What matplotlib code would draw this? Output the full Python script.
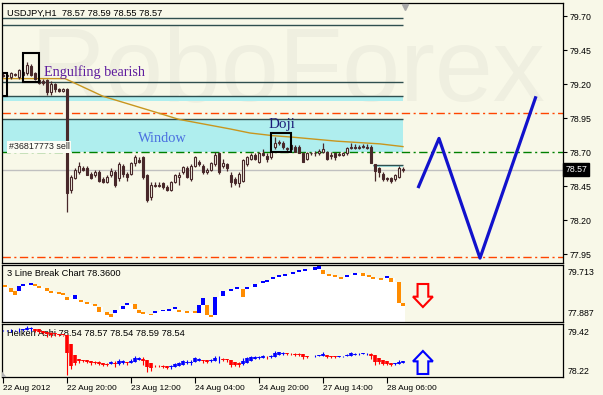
import numpy as np
import matplotlib
matplotlib.use("Agg")
import matplotlib.pyplot as plt
import matplotlib.transforms as mtransforms
from matplotlib.patches import Rectangle, Polygon

plt.rcParams['font.family'] = ['Liberation Sans', 'DejaVu Sans']

# USDJPY H1 candles, one per bar
opens = [79.27, 79.26, 79.25, 79.27, 79.25, 79.29, 79.28, 79.33, 79.28, 79.23,
         79.22, 79.23, 79.14, 79.20, 79.16, 79.15, 79.16, 78.42, 78.51, 78.55,
         78.58, 78.58, 78.54, 78.53, 78.55, 78.50, 78.48, 78.53, 78.55, 78.51,
         78.60, 78.54, 78.54, 78.62, 78.64, 78.66, 78.53, 78.37, 78.45, 78.46,
         78.47, 78.44, 78.42, 78.48, 78.52, 78.55, 78.58, 78.50, 78.60, 78.63,
         78.60, 78.55, 78.57, 78.61, 78.69, 78.60, 78.61, 78.53, 78.50, 78.47,
         78.49, 78.61, 78.65, 78.68, 78.63, 78.69, 78.67, 78.66, 78.74, 78.77,
         78.77, 78.72, 78.75, 78.74, 78.74, 78.69, 78.65, 78.69, 78.69, 78.69,
         78.70, 78.70, 78.67, 78.69, 78.68, 78.68, 78.69, 78.73, 78.74, 78.73,
         78.74, 78.74, 78.74, 78.61, 78.58, 78.54, 78.51, 78.51, 78.50, 78.52,
         78.57]
highs = [79.28, 79.28, 79.29, 79.28, 79.31, 79.30, 79.36, 79.35, 79.29, 79.24,
         79.24, 79.24, 79.22, 79.21, 79.17, 79.17, 79.17, 78.53, 78.58, 78.63,
         78.60, 78.60, 78.55, 78.57, 78.57, 78.52, 78.53, 78.58, 78.57, 78.63,
         78.61, 78.55, 78.63, 78.68, 78.66, 78.67, 78.54, 78.48, 78.48, 78.48,
         78.48, 78.46, 78.49, 78.54, 78.55, 78.60, 78.60, 78.61, 78.67, 78.64,
         78.61, 78.58, 78.63, 78.70, 78.70, 78.65, 78.62, 78.55, 78.52, 78.55,
         78.65, 78.67, 78.69, 78.69, 78.70, 78.72, 78.69, 78.71, 78.81, 78.79,
         78.78, 78.74, 78.76, 78.75, 78.75, 78.70, 78.70, 78.70, 78.71, 78.72,
         78.77, 78.71, 78.70, 78.70, 78.70, 78.70, 78.74, 78.77, 78.76, 78.75,
         78.76, 78.76, 78.75, 78.61, 78.59, 78.55, 78.52, 78.52, 78.54, 78.60,
         78.59]
lows = [79.25, 79.25, 79.24, 79.26, 79.24, 79.26, 79.27, 79.26, 79.23, 79.20,
        79.19, 79.12, 79.12, 79.14, 79.14, 79.14, 78.26, 78.40, 78.50, 78.54,
        78.56, 78.53, 78.50, 78.52, 78.48, 78.47, 78.47, 78.52, 78.44, 78.49,
        78.52, 78.49, 78.53, 78.60, 78.62, 78.50, 78.33, 78.35, 78.44, 78.44,
        78.43, 78.41, 78.41, 78.47, 78.46, 78.54, 78.51, 78.49, 78.59, 78.60,
        78.54, 78.54, 78.56, 78.60, 78.54, 78.58, 78.56, 78.44, 78.46, 78.44,
        78.48, 78.60, 78.64, 78.64, 78.62, 78.67, 78.63, 78.65, 78.72, 78.75,
        78.72, 78.71, 78.71, 78.70, 78.69, 78.63, 78.64, 78.68, 78.67, 78.68,
        78.69, 78.64, 78.65, 78.64, 78.67, 78.67, 78.68, 78.72, 78.72, 78.72,
        78.73, 78.72, 78.62, 78.49, 78.52, 78.49, 78.49, 78.47, 78.49, 78.51,
        78.55]
closes = [79.26, 79.27, 79.28, 79.27, 79.30, 79.27, 79.34, 79.27, 79.24, 79.21,
          79.21, 79.14, 79.20, 79.16, 79.15, 79.16, 78.40, 78.52, 78.57, 78.60,
          78.57, 78.53, 78.51, 78.55, 78.49, 78.48, 78.52, 78.56, 78.46, 78.61,
          78.54, 78.52, 78.62, 78.66, 78.63, 78.52, 78.35, 78.46, 78.46, 78.45,
          78.44, 78.42, 78.48, 78.53, 78.53, 78.59, 78.52, 78.60, 78.66, 78.61,
          78.55, 78.57, 78.62, 78.68, 78.55, 78.62, 78.58, 78.48, 78.47, 78.54,
          78.64, 78.66, 78.68, 78.65, 78.69, 78.68, 78.65, 78.70, 78.77, 78.77,
          78.74, 78.73, 78.72, 78.70, 78.69, 78.63, 78.69, 78.69, 78.69, 78.71,
          78.72, 78.65, 78.68, 78.66, 78.68, 78.69, 78.73, 78.74, 78.73, 78.74,
          78.74, 78.73, 78.62, 78.56, 78.55, 78.50, 78.50, 78.49, 78.53, 78.58,
          78.57]

# moving average (read as knots)
ma_bar = [-0.25, 15.5, 25, 38.5, 44, 56.75, 61.75, 67.6, 72.2, 83.4, 94.25, 100]
ma_val = [79.24, 79.24, 79.11, 78.99, 78.94, 78.87, 78.84, 78.82, 78.81, 78.78, 78.76, 78.74]

# forecast zigzag
fc_bar = [103.75, 109, 119.25, 133.25]
fc_val = [78.435, 78.80, 77.92, 79.11]

# horizontal levels
teal_levels = [79.689, 79.6375, 79.215, 79.112, 78.943]
window_lo, window_hi = 78.70, 78.943
orange_levels = [78.987, 77.928]
green_level = 78.70
last_price = 78.57
yticks_main = [79.70, 79.45, 79.20, 78.95, 78.70, 78.45, 78.20, 77.95]

# 3 line break bricks
lb_bar = [0.5, 2, 3, 4, 5, 7, 8, 9, 11, 12, 14, 15, 16, 18, 19.5, 21, 23, 24, 26, 27,
          28, 30, 31, 33, 34, 35, 37, 38, 40, 41.5, 43, 44, 46, 48, 49, 50, 51, 52, 53, 55,
          57, 58.5, 60, 61, 63, 65, 66, 67.5, 69, 70.5, 72.5, 74, 75.5, 78, 79, 80, 81.5, 83, 84.5, 86,
          88, 90, 91.5, 92.5, 94.5, 96, 97, 99, 100]
lb_top = [79.06, 78.96, 78.87, 79.03, 79.09, 79.13, 79.09, 79.03, 78.96, 78.87, 78.80, 78.77, 78.67, 78.74, 78.57, 78.47, 78.41, 78.34, 78.18, 78.12,
          78.25, 78.38, 78.47, 78.44, 78.25, 78.15, 78.12, 78.18, 78.25, 78.26, 78.31, 78.25, 78.21, 78.18, 78.41, 78.64, 78.41, 78.08, 78.67, 78.87,
          78.90, 78.96, 78.93, 79.00, 79.09, 79.16, 79.22, 79.29, 79.35, 79.39, 79.45, 79.52, 79.55, 79.62, 79.65, 79.55, 79.39, 79.35, 79.29, 79.39,
          79.45, 79.45, 79.35, 79.29, 79.26, 79.32, 79.29, 79.16, 78.47]
lb_bot = [79.00, 78.83, 78.74, 78.87, 79.03, 79.06, 79.03, 78.96, 78.87, 78.80, 78.77, 78.74, 78.57, 78.60, 78.51, 78.44, 78.38, 78.18, 78.08, 78.02,
          78.15, 78.28, 78.41, 78.28, 78.15, 78.12, 78.08, 78.15, 78.21, 78.23, 78.28, 78.18, 78.15, 78.15, 78.15, 78.41, 78.08, 78.02, 78.08, 78.70,
          78.87, 78.93, 78.67, 78.93, 79.00, 79.13, 79.16, 79.26, 79.32, 79.35, 79.42, 79.48, 79.52, 79.55, 79.58, 79.42, 79.35, 79.32, 79.26, 79.32,
          79.39, 79.35, 79.32, 79.26, 79.22, 79.29, 79.16, 78.47, 78.38]
lb_up = [0, 0, 0, 1, 1, 1, 0, 0, 0, 0, 0, 0, 0, 1, 0, 0, 0, 0, 0, 0,
         1, 1, 1, 0, 0, 0, 0, 1, 1, 1, 1, 0, 0, 0, 1, 1, 0, 0, 1, 1,
         1, 1, 0, 1, 1, 1, 1, 1, 1, 1, 1, 1, 1, 1, 1, 0, 0, 0, 0, 1,
         1, 0, 0, 0, 0, 1, 0, 0, 0]

tick_bars = [0, 16, 32, 48, 64, 80, 96]
tick_labels = ['22 Aug 2012', '22 Aug 20:00', '23 Aug 12:00', '24 Aug 04:00',
               '24 Aug 20:00', '27 Aug 14:00', '28 Aug 06:00']

BG = '#F8F8E8'
CANDLE = '#48282A'
CYAN = '#AFEEEE'
TEAL = '#2F4F4F'

fig = plt.figure(figsize=(6.03, 3.95), dpi=100, facecolor=BG)
L, W = 2 / 603, 561 / 603
ax = fig.add_axes([L, 1 - 263 / 395, W, 260 / 395], facecolor=BG)
ax2 = fig.add_axes([L, 1 - 321.5 / 395, W, 57 / 395], facecolor=BG)
ax3 = fig.add_axes([L, 1 - 377 / 395, W, 53.5 / 395], facecolor=BG)

xmin, xmax = -0.25, 140
band_end = 100
for a in (ax, ax2, ax3):
    a.set_xlim(xmin, xmax)
    for s in a.spines.values():
        s.set_color('black')
        s.set_linewidth(0.9)

# ---------------- main chart ----------------
ax.set_ylim(77.884, 79.796)
ax.text(0.05, 0.627, 'RoboForex', transform=ax.transAxes, fontsize=75,
        color='#EFEFE0', va='baseline', ha='left', zorder=0.5)

ax.add_patch(Rectangle((xmin, window_lo), band_end - xmin, window_hi - window_lo,
                       color=CYAN, lw=0, zorder=1))
ax.add_patch(Rectangle((xmin, teal_levels[3] - 0.04), band_end - xmin, 0.04,
                       color=CYAN, lw=0, zorder=1))
for lv in teal_levels[:2]:
    ax.add_patch(Rectangle((xmin, lv - 0.014), band_end - xmin, 0.014,
                           color=CYAN, lw=0, zorder=1))
ax.add_patch(Rectangle((92.5, 78.59), band_end - 92.5, 0.014, color=CYAN, lw=0, zorder=1))
ax.hlines(teal_levels, xmin, band_end, color=TEAL, lw=1.0, zorder=2)
ax.hlines([78.604], 92.5, band_end, color=TEAL, lw=1.0, zorder=2)

for lv in orange_levels:
    ax.axhline(lv, color='#FF4500', lw=1.0, ls=(0, (6, 2.5, 1.5, 2.5)), zorder=2)
ax.axhline(green_level, color='#008000', lw=1.0, ls=(0, (6, 2.5, 1.5, 2.5)), zorder=2)
ax.axhline(last_price, color='#C0C0C0', lw=1.0, zorder=2)

ax.plot(ma_bar, ma_val, color='#C8961E', lw=1.0, zorder=3)

x = np.arange(len(closes))
o, h, l, c = (np.array(v) for v in (opens, highs, lows, closes))
ax.vlines(x, l, h, color=CANDLE, lw=0.9, zorder=4)
up = c >= o
lo = np.minimum(o, c)
hgt = np.maximum(np.abs(c - o), 0.006)
ax.bar(x[up], hgt[up], bottom=lo[up], width=0.6, facecolor=BG, edgecolor=CANDLE, lw=0.8, zorder=5)
ax.bar(x[~up], hgt[~up], bottom=lo[~up], width=0.6, facecolor=CANDLE, edgecolor=CANDLE, lw=0.8, zorder=5)

ax.plot(fc_bar, fc_val, color='#1212CC', lw=2.3, zorder=6, solid_capstyle='butt')

# pattern boxes and labels
ax.add_patch(Rectangle((5, 79.215), 4, 0.213, fill=False, ec='black', lw=1.5, zorder=7))
ax.add_patch(Rectangle((xmin, 79.112), 1.25, 0.17, fill=False, ec='black', lw=1.5, zorder=7))
ax.add_patch(Rectangle((67, 78.70), 5, 0.14, fill=False, ec='black', lw=1.5, zorder=7))
ax.text(10.3, 79.29, 'Engulfing bearish', family=['Liberation Serif', 'DejaVu Serif'],
        fontsize=10.2, color='#5E1C9E', va='center', zorder=8)
ax.text(33.8, 78.80, 'Window', family=['Liberation Serif', 'DejaVu Serif'],
        fontsize=10.4, color='#4A6FE0', va='center', zorder=8)
ax.text(66.5, 78.90, 'Doji', family=['Liberation Serif', 'DejaVu Serif'],
        fontsize=10.8, color='#1C1C78', va='center', zorder=8)
ax.text(1.4, 78.738, '#36817773 sell', fontsize=6.4, color='#202020', va='center', zorder=8,
        bbox=dict(boxstyle='square,pad=0.15', fc='#FCFCF4', ec='none'))
ax.text(0.009, 0.976, 'USDJPY,H1  78.57 78.59 78.55 78.57', transform=ax.transAxes,
        fontsize=6.7, va='top', ha='left', zorder=8)
ax.plot([100.5], [0.985], marker='v', ms=5, color='#A8A8A8',
        transform=mtransforms.blended_transform_factory(ax.transData, ax.transAxes),
        clip_on=False, zorder=8)

ax.yaxis.tick_right()
ax.set_yticks(yticks_main)
ax.set_yticklabels(['%.2f' % v for v in yticks_main])
ax.tick_params(axis='y', length=3, width=0.8, pad=2, labelsize=6.3, direction='out')
ax.tick_params(axis='x', bottom=False, labelbottom=False)
trans = mtransforms.blended_transform_factory(ax.transAxes, ax.transData)
ax.text(1.004, last_price, '78.57', transform=trans, fontsize=6.3, color='white', va='center',
        ha='left', bbox=dict(boxstyle='square,pad=0.2', fc='black', ec='black'), zorder=9)


def arrow_poly(a, x0, x1, y0, y1, down, ec):
    xm = (x0 + x1) / 2
    sw = (x1 - x0) * 0.27
    if down:
        yh = y0 + 0.45 * (y1 - y0)
        pts = [(xm - sw, y1), (xm + sw, y1), (xm + sw, yh), (x1, yh), (xm, y0), (x0, yh), (xm - sw, yh)]
    else:
        yh = y1 - 0.45 * (y1 - y0)
        pts = [(xm - sw, y0), (xm + sw, y0), (xm + sw, yh), (x1, yh), (xm, y1), (x0, yh), (xm - sw, yh)]
    a.add_patch(Polygon(pts, closed=True, transform=a.transAxes, fc=BG, ec=ec, lw=1.5, zorder=6))


# ---------------- 3 line break ----------------
ax2.set_ylim(77.887, 79.713)
lb_bar_a = np.array(lb_bar)
lb_top_a = np.array(lb_top)
lb_bot_a = np.array(lb_bot)
lb_h = np.maximum(lb_top_a - lb_bot_a, 0.06)
upm = np.array(lb_up, dtype=bool)
fx = np.r_[xmin, lb_bar_a, 100.5]
fy = np.r_[lb_top_a[0], lb_top_a, lb_top_a[-1]]
ax2.fill_between(fx, fy, 77.887, step='mid', color='white', lw=0, zorder=1)
ax2.bar(lb_bar_a[upm], lb_h[upm], bottom=lb_bot_a[upm], width=1.0,
        color='#0000FF', lw=0, zorder=3)
ax2.bar(lb_bar_a[~upm], lb_h[~upm], bottom=lb_bot_a[~upm], width=1.0,
        color='#FF8C00', lw=0, zorder=3)
ax2.text(0.009, 0.84, '3 Line Break Chart 78.3600', transform=ax2.transAxes, fontsize=6.7,
         va='center', ha='left', zorder=2)
ax2.text(1.009, 0.868, '79.713', transform=ax2.transAxes, fontsize=6.3, va='center')
ax2.text(1.009, 0.132, '77.887', transform=ax2.transAxes, fontsize=6.3, va='center')
arrow_poly(ax2, 0.7326, 0.768, 0.254, 0.658, True, '#FF0000')
ax2.set_yticks([])
ax2.tick_params(axis='x', bottom=False, labelbottom=False)

# ---------------- Heiken Ashi ----------------
ax3.set_ylim(78.22, 79.42)
ha_close = (o + h + l + c) / 4
ha_open = np.empty_like(ha_close)
ha_open[0] = (o[0] + c[0]) / 2
for i in range(1, len(c)):
    ha_open[i] = (ha_open[i - 1] + ha_close[i - 1]) / 2
ha_high = np.maximum.reduce([h, ha_open, ha_close])
ha_low = np.minimum.reduce([l, ha_open, ha_close])
ha_col = np.where(ha_close >= ha_open, '#0000FF', '#FF0000')
ax3.text(0.009, 0.82, 'Heiken Ashi 78.54 78.57 78.54 78.59 78.54', transform=ax3.transAxes,
         fontsize=6.7, va='center', ha='left', zorder=2)
ax3.vlines(x, ha_low, ha_high, colors=ha_col, lw=0.8, zorder=3)
ax3.vlines(x, np.minimum(ha_open, ha_close), np.maximum(ha_open, ha_close) + 0.008,
           colors=ha_col, lw=2.6, zorder=3)
ax3.text(1.009, 0.84, '79.42', transform=ax3.transAxes, fontsize=6.3, va='center')
ax3.text(1.009, 0.112, '78.22', transform=ax3.transAxes, fontsize=6.3, va='center')
arrow_poly(ax3, 0.7326, 0.768, 0.056, 0.486, False, '#0000FF')
ax3.add_patch(Polygon([(0, 0), (0.008, 0), (0, 0.1)], closed=True, transform=ax3.transAxes,
                      fc='#B4B4B4', ec='none', zorder=4))
ax3.set_yticks([])
ax3.set_xticks(tick_bars)
ax3.set_xticklabels(tick_labels)
for lab in ax3.get_xticklabels():
    lab.set_ha('left')
ax3.tick_params(axis='x', length=4, width=0.8, pad=2, labelsize=6, direction='out')

fig.savefig('out.png', dpi=100, facecolor=BG)
